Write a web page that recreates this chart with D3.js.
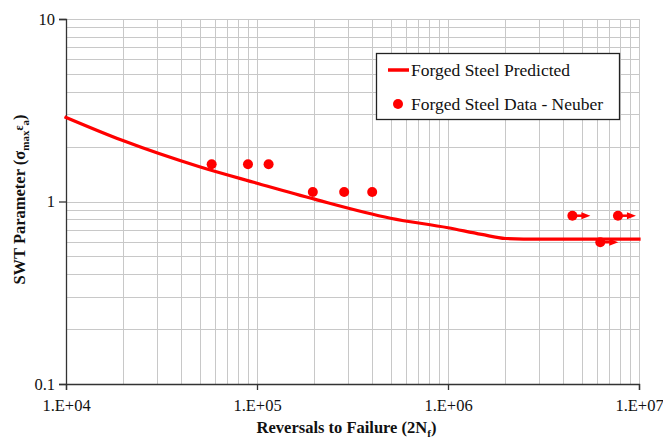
<!DOCTYPE html>
<html>
<head>
<meta charset="utf-8">
<script src="https://cdn.jsdelivr.net/npm/d3@7"></script>
<style>
  body { margin: 0; background: #fff; }
  svg text { font-family: "Liberation Serif"; }
</style>
</head>
<body>
<div id="chart"></div>
<script>
// Predicted SWT curve
const predCycles = [1e4, 2e4, 5e4, 1e5, 2e5, 5e5, 1e6, 1.5e6, 2e6, 3e6, 1e7];
const predSwt = [2.89, 2.15, 1.55, 1.26, 1.03, 0.81, 0.718, 0.66, 0.627, 0.622, 0.622];

// Neuber data points; runout marks the ones drawn with an arrow
const dataCycles = [5.79e4, 8.97e4, 1.15e5, 1.96e5, 2.86e5, 4.01e5, 4.48e6, 6.27e6, 7.76e6];
const dataSwt = [1.60, 1.60, 1.60, 1.127, 1.127, 1.127, 0.836, 0.598, 0.836];
const dataRunout = [false, false, false, false, false, false, true, true, true];

const xTickValues = [1e4, 1e5, 1e6, 1e7];
const xTickLabels = ["1.E+04", "1.E+05", "1.E+06", "1.E+07"];
const yTickValues = [0.1, 1, 10];
const yTickLabels = ["0.1", "1", "10"];

const SERIF = "Liberation Serif";

const W = 663, H = 441;
const margin = { top: 19, right: 24, bottom: 57, left: 66 };
const width = W - margin.left - margin.right;
const height = H - margin.top - margin.bottom;

const svg = d3.select("#chart").append("svg")
    .attr("width", W)
    .attr("height", H)
    .attr("font-family", SERIF);

const g = svg.append("g")
    .attr("transform", `translate(${margin.left},${margin.top})`);

const x = d3.scaleLog().domain([1e4, 1e7]).range([0, width]);
const y = d3.scaleLog().domain([0.1, 10]).range([height, 0]);

// gridlines: every 1..9 within each decade
const xGrid = [], yGrid = [];
for (let e = 4; e < 7; e++) for (let m = 1; m <= 9; m++) xGrid.push(m * Math.pow(10, e));
xGrid.push(1e7);
for (let e = -1; e < 1; e++) for (let m = 1; m <= 9; m++) yGrid.push(m * Math.pow(10, e));
yGrid.push(10);

g.append("g").selectAll("line").data(xGrid).join("line")
    .attr("x1", d => Math.round(x(d)) + 0.5).attr("x2", d => Math.round(x(d)) + 0.5)
    .attr("y1", 0).attr("y2", height)
    .attr("stroke", "#c8c8c8").attr("stroke-width", 1);

g.append("g").selectAll("line").data(yGrid).join("line")
    .attr("y1", d => Math.round(y(d)) + 0.5).attr("y2", d => Math.round(y(d)) + 0.5)
    .attr("x1", 0).attr("x2", width)
    .attr("stroke", "#c8c8c8").attr("stroke-width", 1);

// axes
const xAxis = g.append("g")
    .attr("transform", `translate(0,${height})`)
    .call(d3.axisBottom(x).tickValues(xTickValues)
        .tickFormat((d, i) => xTickLabels[i]).tickSize(6).tickPadding(9));
const yAxis = g.append("g")
    .call(d3.axisLeft(y).tickValues(yTickValues)
        .tickFormat((d, i) => yTickLabels[i]).tickSize(7).tickPadding(4));

[xAxis, yAxis].forEach(a => {
  a.attr("font-family", SERIF).attr("font-size", 16.5);
  a.select(".domain").attr("stroke", "#333").attr("stroke-width", 1.3);
  a.selectAll(".tick line").attr("stroke", "#333").attr("stroke-width", 1.3);
  a.selectAll(".tick text").attr("fill", "#111");
});

// predicted curve
const line = d3.line()
    .x((d, i) => x(predCycles[i]))
    .y(d => y(d))
    .curve(d3.curveMonotoneX);

g.append("path")
    .datum(predSwt)
    .attr("fill", "none")
    .attr("stroke", "#ff0000")
    .attr("stroke-width", 3.2)
    .attr("stroke-linecap", "square")
    .attr("d", line);

// runout arrows
const runIdx = dataRunout.map((r, i) => r ? i : -1).filter(i => i >= 0);
const arrows = g.append("g").selectAll("g").data(runIdx).join("g")
    .attr("transform", i => `translate(${x(dataCycles[i])},${y(dataSwt[i])})`);
arrows.append("line")
    .attr("x1", 0).attr("x2", 11).attr("y1", 0).attr("y2", 0)
    .attr("stroke", "#ff0000").attr("stroke-width", 2.5);
arrows.append("path")
    .attr("d", "M9,-3.5 L18,0 L9,3.5 Z")
    .attr("fill", "#ff0000");

// data points
g.append("g").selectAll("circle").data(dataSwt).join("circle")
    .attr("cx", (d, i) => x(dataCycles[i]))
    .attr("cy", d => y(d))
    .attr("r", 5)
    .attr("fill", "#ff0000");

// legend
const leg = svg.append("g").attr("transform", "translate(376,53)");
leg.append("rect")
    .attr("x", 0.5).attr("y", 0.5).attr("width", 243).attr("height", 66)
    .attr("fill", "#fff").attr("stroke", "#222").attr("stroke-width", 1.3);
leg.append("line")
    .attr("x1", 12).attr("x2", 33).attr("y1", 17).attr("y2", 17)
    .attr("stroke", "#ff0000").attr("stroke-width", 3.5);
leg.append("text")
    .attr("x", 35).attr("y", 23)
    .attr("font-size", 17.5).attr("fill", "#111")
    .text("Forged Steel Predicted");
leg.append("circle")
    .attr("cx", 22).attr("cy", 51).attr("r", 5).attr("fill", "#ff0000");
leg.append("text")
    .attr("x", 35).attr("y", 57)
    .attr("font-size", 17.5).attr("fill", "#111")
    .text("Forged Steel Data - Neuber");

// x axis title
const xt = svg.append("text")
    .attr("x", margin.left + width / 2 - 6)
    .attr("y", 433)
    .attr("text-anchor", "middle")
    .attr("font-size", 16.5)
    .attr("font-weight", "bold")
    .attr("fill", "#111");
xt.append("tspan").text("Reversals to Failure (2N");
xt.append("tspan").attr("dy", 4).attr("font-size", 11).text("f");
xt.append("tspan").attr("dy", -4).text(")");

// y axis title
const yt = svg.append("text")
    .attr("transform", `translate(25,${margin.top + height / 2 - 2}) rotate(-90)`)
    .attr("text-anchor", "middle")
    .attr("font-size", 16.5)
    .attr("font-weight", "bold")
    .attr("fill", "#111");
yt.append("tspan").text("SWT Parameter (σ");
yt.append("tspan").attr("dy", 4).attr("font-size", 11).text("max");
yt.append("tspan").attr("dy", -6).attr("font-size", 12).text("ε");
yt.append("tspan").attr("dy", 6).attr("font-size", 11).text("a");
yt.append("tspan").attr("dy", -4).text(")");
</script>
</body>
</html>
